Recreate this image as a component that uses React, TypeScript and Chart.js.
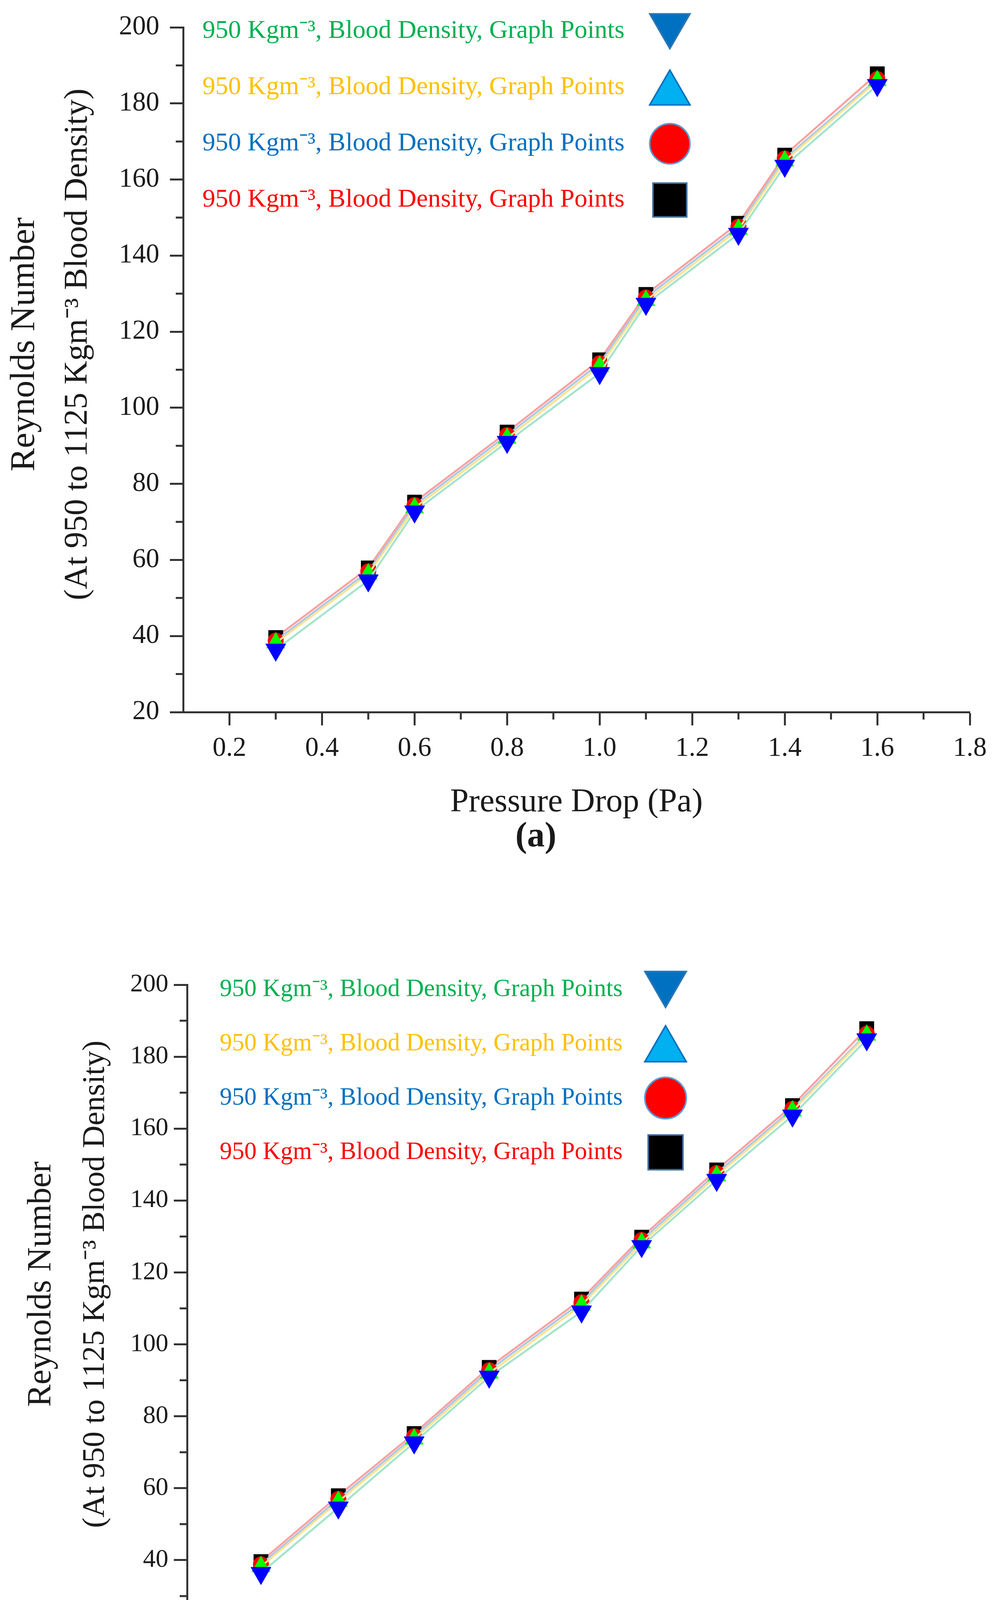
import { useEffect, useRef } from 'react';
import { Chart, registerables } from 'chart.js';

Chart.register(...registerables);

const SERIF = "'Liberation Serif', 'Times New Roman', serif";
const INK = '#1a1a1a';
const AXIS = '#333333';

// x values of the two panels
const PRESSURE_DROP = [0.3, 0.5, 0.6, 0.8, 1.0, 1.1, 1.3, 1.4, 1.6];
const FLOW_RATE = [3.88, 5.85, 7.78, 9.69, 12.04, 13.57, 15.48, 17.41, 19.3];

// Reynolds number, one list per marker
const RE_DOWN = [36.4, 54.6, 72.7, 91.0, 109.1, 127.3, 145.7, 163.6, 184.8];
const RE_UP = [38.2, 56.3, 73.7, 92.0, 110.9, 128.2, 146.9, 164.9, 186.0];
const RE_CIRCLE = [38.8, 57.0, 74.4, 92.8, 111.7, 129.0, 147.6, 165.5, 186.4];
const RE_SQUARE = [39.6, 57.9, 75.2, 93.6, 112.6, 129.8, 148.5, 166.4, 187.8];

const LEGEND_LABELS = [
  '950 Kgm⁻³, Blood Density, Graph Points',
  '950 Kgm⁻³, Blood Density, Graph Points',
  '950 Kgm⁻³, Blood Density, Graph Points',
  '950 Kgm⁻³, Blood Density, Graph Points',
];

const Y_TICKS = [20, 40, 60, 80, 100, 120, 140, 160, 180, 200];
const Y_MINOR = [30, 50, 70, 90, 110, 130, 150, 170, 190];
const XA_TICKS = [0.2, 0.4, 0.6, 0.8, 1.0, 1.2, 1.4, 1.6, 1.8];
const XA_MINOR = [0.3, 0.5, 0.7, 0.9, 1.1, 1.3, 1.5, 1.7];
const XB_TICKS = [2, 4, 6, 8, 10, 12, 14, 16, 18, 20];
const XB_MINOR = [3, 5, 7, 9, 11, 13, 15, 17, 19, 21];

const Y_TITLE = ['Reynolds Number', '(At 950 to 1125 Kgm⁻³ Blood Density)'];

// drawing styles, same order as the legend rows
const SERIES = [
  { values: RE_DOWN, line: '#a3e4c9', point: '#0000ff', style: 'triangle', rot: 180, r: 30 },
  { values: RE_UP, line: '#ffe28f', point: '#00ff00', style: 'triangle', rot: 0, r: 27 },
  { values: RE_CIRCLE, line: '#a9c9e9', point: '#ff0000', style: 'circle', rot: 0, r: 20 },
  { values: RE_SQUARE, line: '#ffa0a0', point: '#000000', style: 'rect', rot: 0, r: 26 },
];
const LEGEND_TEXT = ['#00b050', '#ffc000', '#0070c0', '#ff0000'];
const LEGEND_MARK = [
  { shape: 'down', fill: '#0070c0', stroke: '#2e75b6' },
  { shape: 'up', fill: '#00b0f0', stroke: '#0070c0' },
  { shape: 'circle', fill: '#ff0000', stroke: '#5b9bd5' },
  { shape: 'square', fill: '#000000', stroke: '#41719c' },
];

function drawMarker(ctx: CanvasRenderingContext2D, shape: string, x: number, y: number, s: number, fill: string, stroke: string) {
  const h = s * 0.866;
  ctx.beginPath();
  if (shape === 'down') {
    ctx.moveTo(x - s / 2, y - h / 2); ctx.lineTo(x + s / 2, y - h / 2); ctx.lineTo(x, y + h / 2); ctx.closePath();
  } else if (shape === 'up') {
    ctx.moveTo(x, y - h / 2); ctx.lineTo(x + s / 2, y + h / 2); ctx.lineTo(x - s / 2, y + h / 2); ctx.closePath();
  } else if (shape === 'circle') {
    ctx.arc(x, y, s / 2, 0, Math.PI * 2);
  } else {
    const q = s * 0.42;
    ctx.rect(x - q, y - q, 2 * q, 2 * q);
  }
  ctx.fillStyle = fill; ctx.fill();
  ctx.lineWidth = 4; ctx.strokeStyle = stroke; ctx.stroke();
}

// legend rows, rotated y title and the (a)/(b) tag
function makeDecor(d: any) {
  return {
    id: 'decor',
    afterDraw(chart: any) {
      const { ctx, chartArea: a } = chart;
      ctx.save();
      ctx.textBaseline = 'middle';
      ctx.font = `${d.legSize}px ${SERIF}`;
      ctx.textAlign = 'right';
      LEGEND_LABELS.forEach((label, i) => {
        const y = a.top + d.legTop + i * d.legGap;
        ctx.fillStyle = LEGEND_TEXT[i];
        ctx.fillText(label, a.left + d.legTextRight, y);
        const m = LEGEND_MARK[i];
        drawMarker(ctx, m.shape, a.left + d.legMarkX, y, d.legMark, m.fill, m.stroke);
      });

      ctx.textAlign = 'center';
      ctx.fillStyle = INK;
      const cy = (a.top + a.bottom) / 2 + d.yTitleShift;
      Y_TITLE.forEach((t, i) => {
        ctx.save();
        ctx.translate(d.yTitleX[i], cy);
        ctx.rotate(-Math.PI / 2);
        ctx.font = `${d.yTitleSize[i]}px ${SERIF}`;
        ctx.fillText(t, 0, 0);
        ctx.restore();
      });

      ctx.font = `bold 90px ${SERIF}`;
      ctx.fillText(d.tag, d.tagX, d.tagY);
      ctx.restore();
    },
  };
}

function makeMinor(xMinor: number[]) {
  return {
    id: 'minorTicks',
    afterDraw(chart: any) {
      const { ctx, chartArea: a, scales } = chart;
      ctx.save();
      ctx.strokeStyle = AXIS; ctx.lineWidth = 5;
      ctx.beginPath();
      xMinor.forEach(v => { const px = scales.x.getPixelForValue(v); ctx.moveTo(px, a.bottom); ctx.lineTo(px, a.bottom + 19); });
      Y_MINOR.forEach(v => { const py = scales.y.getPixelForValue(v); ctx.moveTo(a.left, py); ctx.lineTo(a.left - 19, py); });
      ctx.stroke();
      ctx.restore();
    },
  };
}

interface PanelProps {
  xs: number[]; xTicks: number[]; xMinor: number[]; xMin: number; xMax: number;
  xTitle: string; fmt: (v: number) => string; d: any;
}

function Panel({ xs, xTicks, xMinor, xMin, xMax, xTitle, fmt, d }: PanelProps) {
  const ref = useRef<HTMLCanvasElement>(null);

  useEffect(() => {
    if (!ref.current) return;
    const chart = new Chart(ref.current, {
      type: 'line',
      data: {
        datasets: SERIES.map(s => ({
          data: xs.map((x, i) => ({ x, y: s.values[i] })),
          borderColor: s.line, borderWidth: 5, tension: 0, fill: false,
          pointStyle: s.style as any, pointRotation: s.rot, pointRadius: s.r,
          pointBackgroundColor: s.point, pointBorderColor: s.point, pointBorderWidth: 1,
        })),
      },
      options: {
        responsive: false, animation: false,
        layout: { padding: { left: 0, right: d.padRight, top: d.padTop, bottom: d.padBottom } },
        plugins: { legend: { display: false }, tooltip: { enabled: false } },
        scales: {
          x: {
            type: 'linear', min: xMin, max: xMax,
            afterFit: (s: any) => { s.height = d.xAxisH; },
            afterBuildTicks: (s: any) => { s.ticks = xTicks.map(v => ({ value: v })); },
            grid: { drawOnChartArea: false, drawTicks: true, tickLength: 34, tickWidth: 5, tickColor: AXIS },
            border: { display: true, color: AXIS, width: 5 },
            ticks: { color: INK, autoSkip: false, maxRotation: 0, padding: d.xTickPad,
              font: { family: SERIF, size: d.xTickSize }, callback: (v: any) => fmt(Number(v)) },
            title: { display: true, text: xTitle, color: INK, padding: { top: 0, bottom: 0 },
              font: { family: SERIF, size: d.xTitleSize, lineHeight: 1.2 } },
          },
          y: {
            type: 'linear', min: 20, max: 200,
            afterFit: (s: any) => { s.width = d.yAxisW; },
            afterBuildTicks: (s: any) => { s.ticks = Y_TICKS.map(v => ({ value: v })); },
            grid: { drawOnChartArea: false, drawTicks: true, tickLength: 34, tickWidth: 5, tickColor: AXIS },
            border: { display: true, color: AXIS, width: 5 },
            ticks: { color: INK, autoSkip: false, padding: d.yTickPad, font: { family: SERIF, size: d.yTickSize } },
          },
        },
      },
      plugins: [makeMinor(xMinor), makeDecor(d)],
    });
    return () => { chart.destroy(); };
  }, [xs, xTicks, xMinor, xMin, xMax, xTitle, fmt, d]);

  return <canvas ref={ref} width={2550} height={d.height} style={{ display: 'block' }} />;
}

const DIM_A = {
  height: 2300, padTop: 70, padRight: 67, padBottom: 194, yAxisW: 469, xAxisH: 283,
  yTitleSize: [89, 84], yTitleX: [64, 200], yTitleShift: -65, yTickSize: 69, yTickPad: 27,
  xTickSize: 69, xTickPad: 18, xTitleSize: 85, tag: '(a)', tagX: 1372, tagY: 2144,
  legSize: 66, legTextRight: 1130, legMarkX: 1246, legTop: 10, legGap: 144, legMark: 103,
};
const DIM_B = {
  height: 2293, padTop: 221, padRight: 160, padBottom: 180, yAxisW: 479, xAxisH: 235,
  yTitleSize: [86, 80], yTitleX: [106, 245], yTitleShift: -62, yTickSize: 65, yTickPad: 14,
  xTickSize: 60, xTickPad: 13, xTitleSize: 75, tag: '(b)', tagX: 1322, tagY: 2213,
  legSize: 63, legTextRight: 1115, legMarkX: 1225, legTop: 12, legGap: 139, legMark: 106,
};

const fmtA = (v: number) => v.toFixed(1);
const fmtB = (v: number) => String(Math.round(v));

export default function App() {
  return (
    <div style={{ width: 2550, background: '#fff' }}>
      <style>{'body{margin:0;background:#fff}'}</style>
      <Panel xs={PRESSURE_DROP} xTicks={XA_TICKS} xMinor={XA_MINOR} xMin={0.1} xMax={1.8}
        xTitle="Pressure Drop (Pa)" fmt={fmtA} d={DIM_A} />
      <Panel xs={FLOW_RATE} xTicks={XB_TICKS} xMinor={XB_MINOR} xMin={2} xMax={21}
        xTitle="Flow Rate (μLs⁻¹)" fmt={fmtB} d={DIM_B} />
    </div>
  );
}
